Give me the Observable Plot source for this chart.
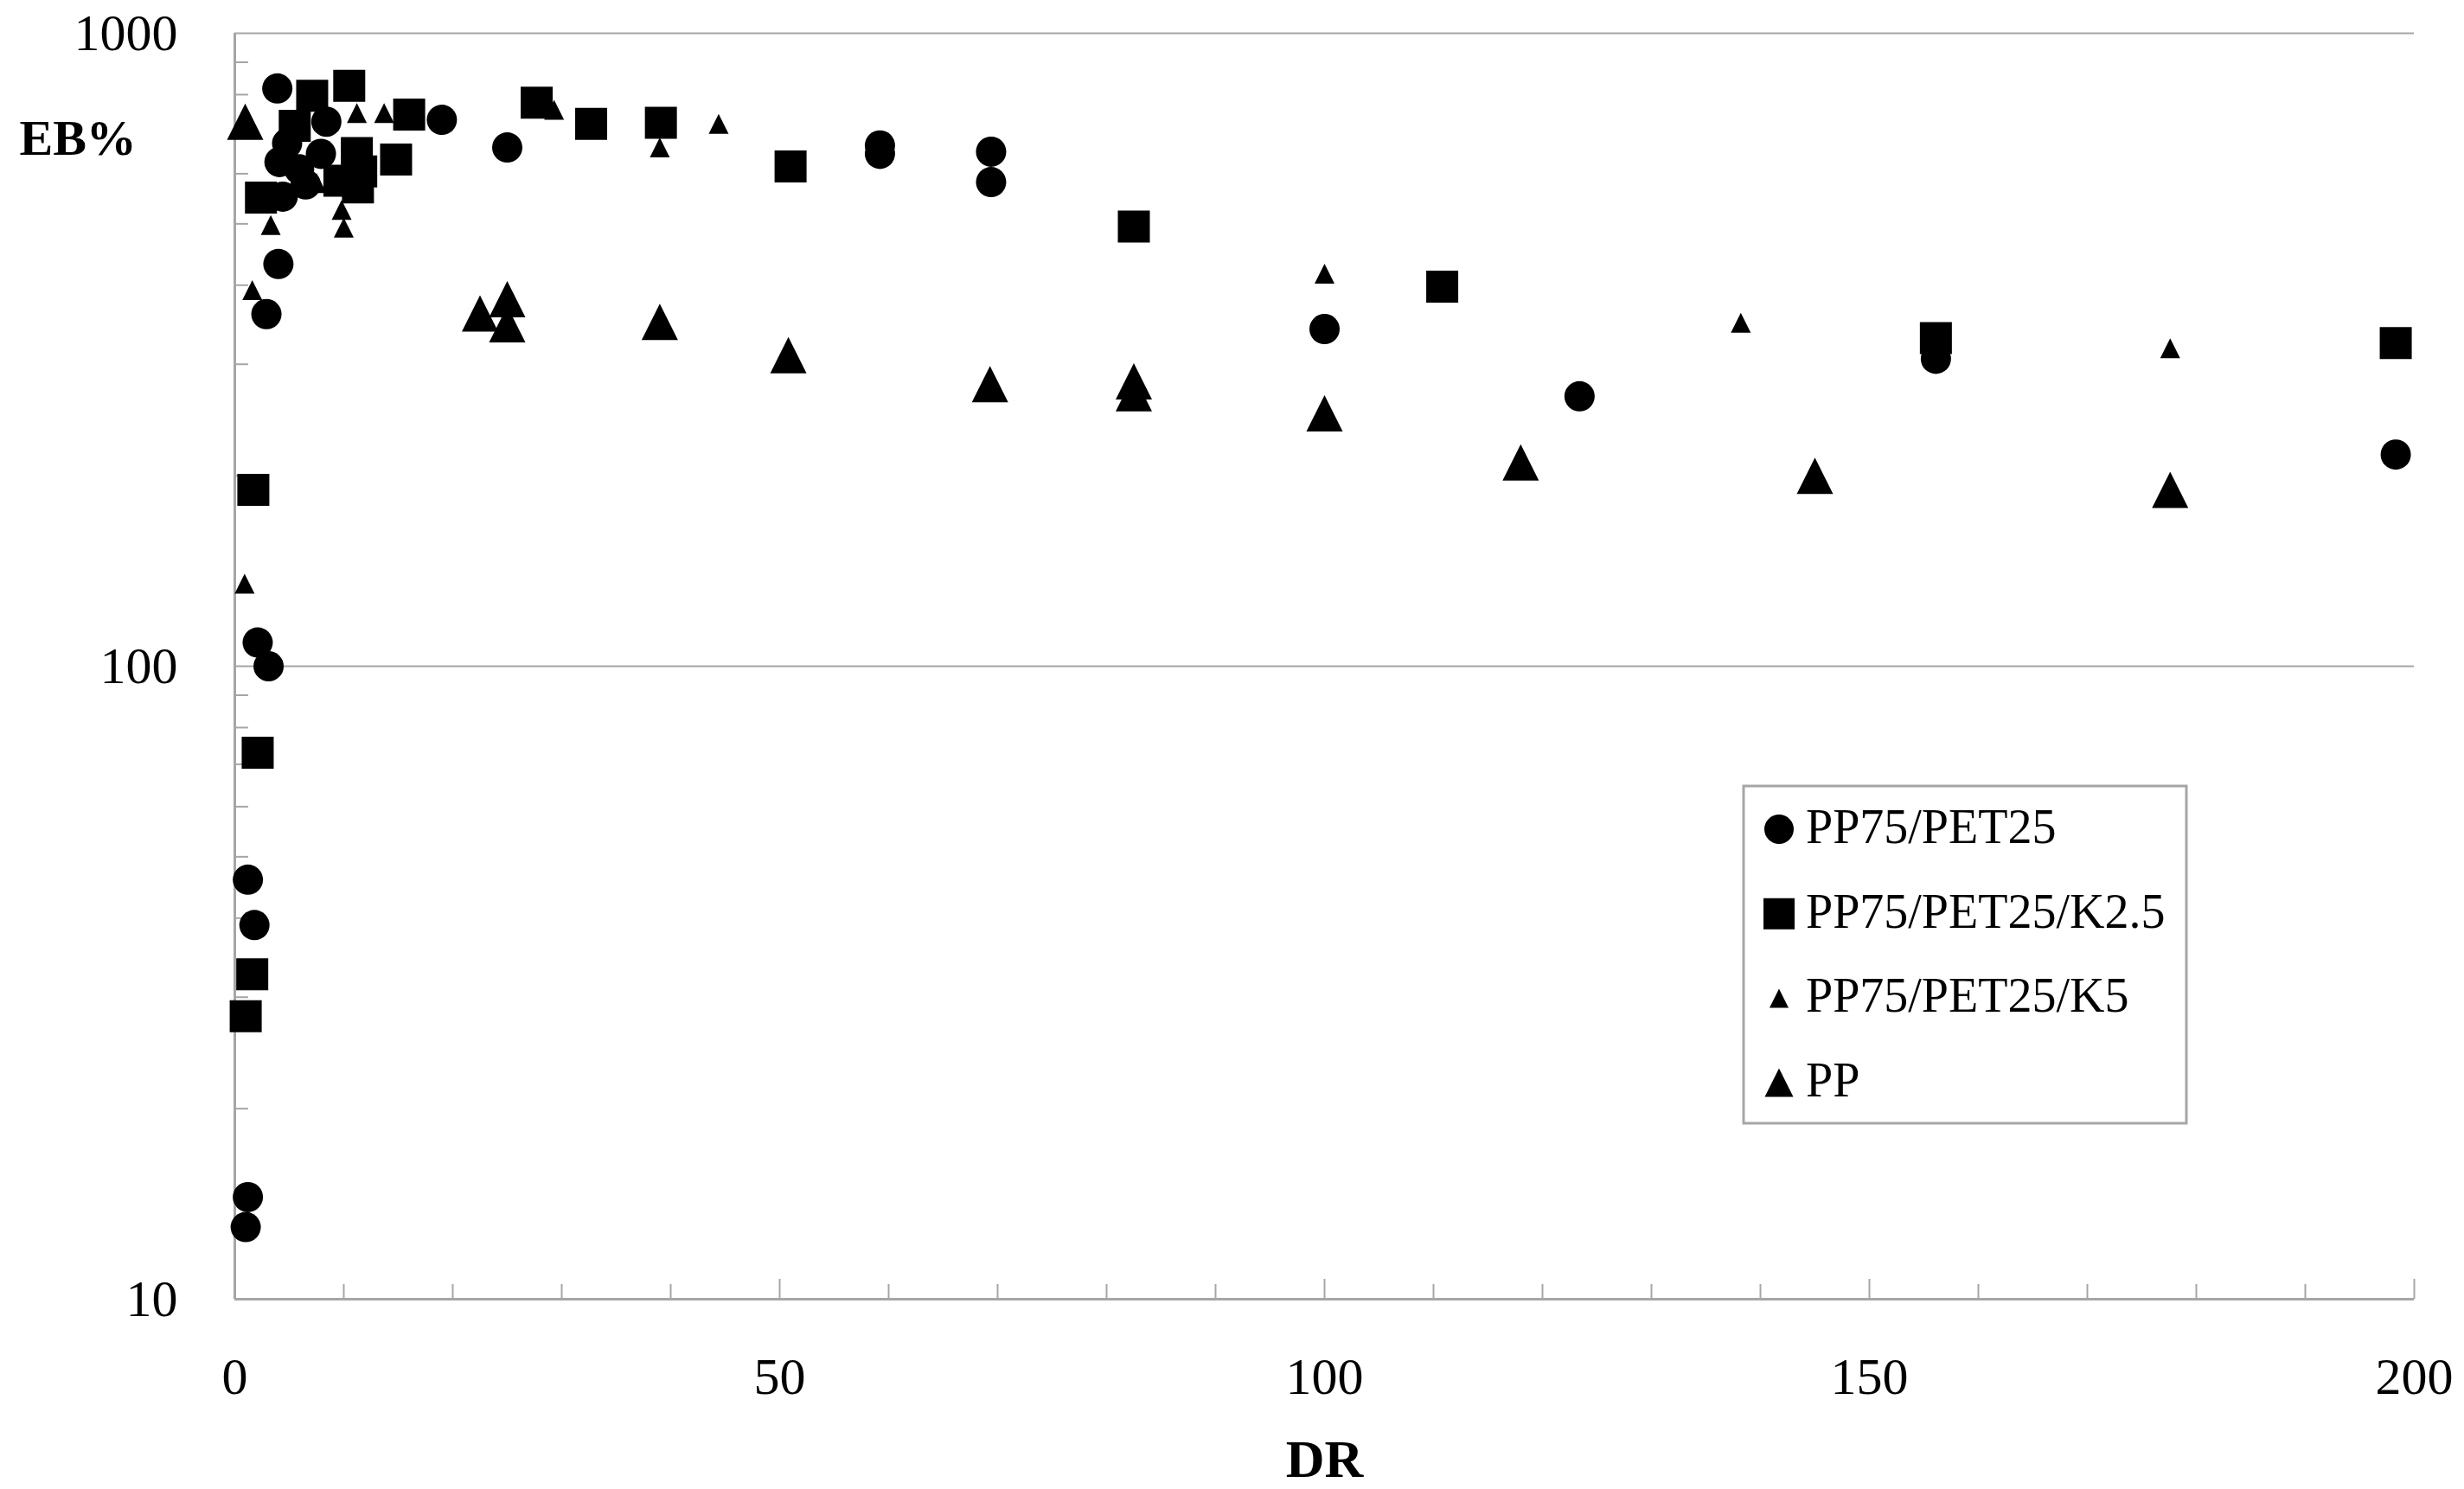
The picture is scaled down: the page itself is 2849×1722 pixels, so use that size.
<!DOCTYPE html>
<html>
<head>
<meta charset="utf-8">
<script src="https://cdn.jsdelivr.net/npm/d3@7"></script>
<script src="https://cdn.jsdelivr.net/npm/@observablehq/plot@0.6"></script>
<style>
html, body { margin: 0; padding: 0; background: #fff; }
#wrap { position: relative; width: 2849px; height: 1722px; }
#legend { position: absolute; left: 0; top: 0; pointer-events: none; }
</style>
</head>
<body>
<div id="wrap"></div>
<script>
// ---- data ----
const seriesNames = ["PP75/PET25", "PP75/PET25/K2.5", "PP75/PET25/K5", "PP"];

const drPET25 = [1.0, 1.2, 1.2, 1.8, 2.1, 3.1, 2.9, 4.0, 4.4, 6.5, 5.9, 4.1, 4.8, 3.9, 7.9, 8.4, 19.0, 25.0, 59.2, 59.2, 69.4, 69.4, 100.0, 123.4, 156.1, 198.3];
const ebPET25 = [13, 14.5, 46, 39, 109, 100, 360, 432, 552, 577, 610, 626, 670, 818, 645, 725, 730, 660, 665, 645, 650, 582, 341, 267, 306, 216];

const drK25 = [1.0, 1.6, 2.1, 1.7, 2.4, 5.5, 7.1, 10.5, 11.2, 11.6, 11.3, 9.6, 14.8, 16.0, 27.7, 32.7, 39.1, 51.0, 82.5, 110.8, 156.1, 198.3];
const ebK25 = [28, 32.6, 73, 190, 550, 714, 797, 826, 647, 605, 571, 585, 632, 744, 777, 719, 722, 616, 495, 398, 330, 324];

const drK5 = [0.9, 1.6, 3.3, 7.5, 9.8, 10.0, 11.2, 13.7, 29.3, 39.0, 44.4, 100.0, 138.2, 177.6];
const ebK5 = [135, 393, 498, 580, 526, 493, 748, 748, 757, 660, 719, 417, 349, 318];

const drPP = [0.95, 22.5, 25.0, 25.0, 39.0, 50.8, 69.3, 82.5, 82.5, 100.0, 118.0, 145.0, 177.6];
const ebPP = [725, 361, 380, 347, 350, 310, 279, 282, 270, 251, 210, 200, 190];

const xTickValues = [0, 50, 100, 150, 200];
const xMinorTicks = [10, 20, 30, 40, 60, 70, 80, 90, 110, 120, 130, 140, 160, 170, 180, 190];
const yTickValues = [10, 100, 1000];
const yMinorTicks = [20, 30, 40, 50, 60, 70, 80, 90, 200, 300, 400, 500, 600, 700, 800, 900];

// ---- symbols (Excel-like markers) ----
const squareSym = { draw(ctx, size) { const r = Math.sqrt(size / Math.PI); ctx.moveTo(-r, -r); ctx.lineTo(r, -r); ctx.lineTo(r, r); ctx.lineTo(-r, r); ctx.closePath(); } };
const triSym = { draw(ctx, size) { const r = Math.sqrt(size / Math.PI); ctx.moveTo(0, -r); ctx.lineTo(r, r); ctx.lineTo(-r, r); ctx.closePath(); } };
const circleSym = { draw(ctx, size) { const r = Math.sqrt(size / Math.PI); ctx.moveTo(r, 0); ctx.arc(0, 0, r, 0, 2 * Math.PI); ctx.closePath(); } };

const toRows = (xs, ys) => xs.map((x, i) => ({ dr: x, eb: ys[i] }));
const rowsPET25 = toRows(drPET25, ebPET25);
const rowsK25 = toRows(drK25, ebK25);
const rowsK5 = toRows(drK5, ebK5);
const rowsPP = toRows(drPP, ebPP);

const W = 2849, H = 1722;
const mL = 271, mR = 58, mT = 38, mB = 220;
const plotW = W - mL - mR, plotH = H - mT - mB;
const gray = "#a6a6a6";
const font = "'Liberation Serif', 'DejaVu Serif', serif";

const chart = Plot.plot({
  width: W,
  height: H,
  marginLeft: mL,
  marginRight: mR,
  marginTop: mT,
  marginBottom: mB,
  style: { fontFamily: font, background: "#fff", color: "#000", overflow: "visible" },
  x: { domain: [0, 200], axis: null },
  y: { type: "log", domain: [10, 1000], axis: null },
  marks: [
    // gridlines
    Plot.ruleY([100, 1000], { stroke: gray, strokeWidth: 2 }),
    // ticks (inside)
    Plot.tickX(xMinorTicks, { x: d => d, stroke: gray, strokeWidth: 2, insetTop: plotH - 17 }),
    Plot.tickX(xTickValues.slice(1), { x: d => d, stroke: gray, strokeWidth: 2, insetTop: plotH - 23 }),
    Plot.tickY(yMinorTicks, { y: d => d, stroke: gray, strokeWidth: 2, insetRight: plotW - 16 }),
    // axis lines
    Plot.ruleY([10], { stroke: gray, strokeWidth: 3 }),
    Plot.ruleX([0], { stroke: gray, strokeWidth: 3 }),
    // tick labels
    Plot.text(xTickValues, { x: d => d, text: d => String(d), frameAnchor: "bottom", lineAnchor: "middle", dy: 90, fontSize: 60, fill: "#000" }),
    Plot.text(yTickValues, { y: d => d, text: d => String(d), frameAnchor: "left", lineAnchor: "middle", textAnchor: "end", dx: -66, fontSize: 60, fill: "#000" }),
    // axis titles
    Plot.text(["EB%"], { frameAnchor: "top-left", lineAnchor: "middle", textAnchor: "start", dx: 22 - mL, dy: 122, fontSize: 58, fontWeight: "bold", fill: "#000" }),
    Plot.text(["DR"], { frameAnchor: "bottom", lineAnchor: "middle", dy: 186, fontSize: 62, fontWeight: "bold", fill: "#000" }),
    // data
    Plot.dot(rowsPET25, { x: "dr", y: "eb", symbol: circleSym, r: 17.5, fill: "#000", stroke: "none" }),
    Plot.dot(rowsK25, { x: "dr", y: "eb", symbol: squareSym, r: 18.5, fill: "#000", stroke: "none" }),
    Plot.dot(rowsK5, { x: "dr", y: "eb", symbol: triSym, r: 11.5, fill: "#000", stroke: "none" }),
    Plot.dot(rowsPP, { x: "dr", y: "eb", symbol: triSym, r: 21, fill: "#000", stroke: "none" })
  ]
});

const wrap = document.getElementById("wrap");
wrap.appendChild(chart);

// ---- legend (overlay, inside the plot area like the original) ----
const legendItems = [
  { name: seriesNames[0], sym: circleSym, r: 17 },
  { name: seriesNames[1], sym: squareSym, r: 18 },
  { name: seriesNames[2], sym: triSym, r: 11 },
  { name: seriesNames[3], sym: triSym, r: 16.5 }
];
const lg = d3.create("svg")
  .attr("id", "legend")
  .attr("width", W).attr("height", H)
  .style("position", "absolute").style("left", "0px").style("top", "0px");
const boxX = 2016, boxY = 909, boxW = 512, boxH = 390;
lg.append("rect").attr("x", boxX).attr("y", boxY).attr("width", boxW).attr("height", boxH)
  .attr("fill", "#fff").attr("stroke", gray).attr("stroke-width", 3);
const baseline0 = 975, rowStep = 97.7;
legendItems.forEach((it, i) => {
  const base = baseline0 + i * rowStep;
  const p = d3.path();
  it.sym.draw(p, it.r * it.r * Math.PI);
  lg.append("path").attr("d", p.toString()).attr("fill", "#000")
    .attr("transform", `translate(2057,${base - 16})`);
  lg.append("text").attr("x", 2088).attr("y", base)
    .attr("font-family", font).attr("font-size", 56).attr("fill", "#000")
    .text(it.name);
});
wrap.appendChild(lg.node());
</script>
</body>
</html>
